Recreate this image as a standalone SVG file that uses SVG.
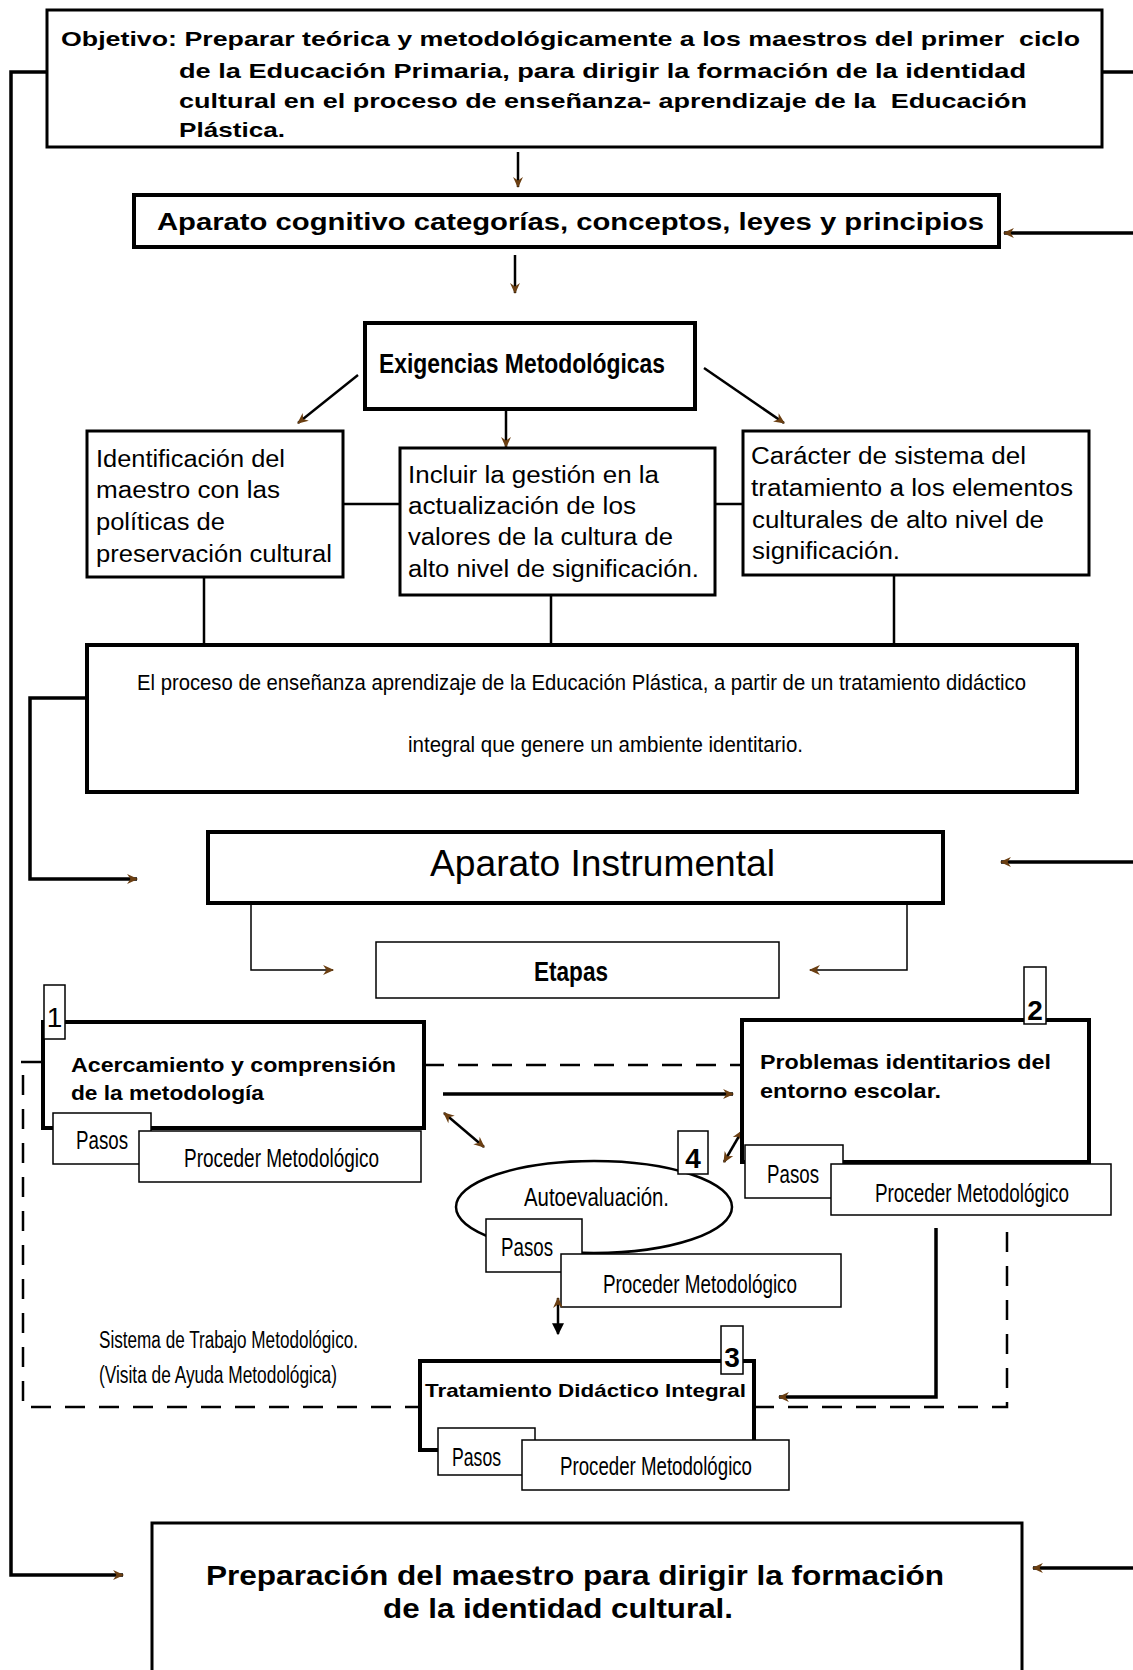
<svg xmlns="http://www.w3.org/2000/svg" width="1133" height="1670" viewBox="0 0 1133 1670">
<style>
.box{fill:#fff;stroke:#000;stroke-width:3}
.thk{stroke-width:4}
.thn{stroke-width:1.5}
.ln{fill:none;stroke:#000;stroke-width:2.5}
.ln3{fill:none;stroke:#000;stroke-width:3.5}
.tl{fill:none;stroke:#000;stroke-width:1.5}
.dash{fill:none;stroke:#000;stroke-width:2.5;stroke-dasharray:20 14}
.b{font-family:"Liberation Sans",Arial,sans-serif;font-weight:bold;fill:#000}
.r{font-family:"Liberation Sans",Arial,sans-serif;fill:#000}
.n{font-family:"Liberation Sans Narrow","Liberation Sans",Arial,sans-serif;fill:#000}
</style>
<defs>
<marker id="a" viewBox="0 0 10 10" refX="9" refY="5" markerWidth="14" markerHeight="11" markerUnits="userSpaceOnUse" orient="auto-start-reverse"><path d="M0,0.5 L10,5 L0,9.5 L3,5 z" fill="#6b3f12"/></marker>
<marker id="k" viewBox="0 0 10 10" refX="9" refY="5" markerWidth="12" markerHeight="12" markerUnits="userSpaceOnUse" orient="auto"><path d="M0,0 L10,5 L0,10 z" fill="#000"/></marker>
</defs>

<g id="connectors">
<path class="ln3" d="M47,72 H11 V1575 H123" marker-end="url(#a)"/>
<path class="ln3" d="M1102,72 H1133"/>
<path class="ln3" d="M1133,233 H1004" marker-end="url(#a)"/>
<path class="ln3" d="M1133,862 H1001" marker-end="url(#a)"/>
<path class="ln3" d="M1133,1568 H1033" marker-end="url(#a)"/>
<path class="ln" d="M518,152 V187" marker-end="url(#a)"/>
<path class="ln" d="M515,255 V293" marker-end="url(#a)"/>
<path class="ln" d="M358,375 L298,423" marker-end="url(#a)"/>
<path class="ln" d="M506,409 V447" marker-end="url(#a)"/>
<path class="ln" d="M704,368 L784,423" marker-end="url(#a)"/>
<path class="ln" d="M343,504 H400 M715,504 H743"/>
<path class="ln" d="M204,577 V645 M551,595 V645 M894,575 V645"/>
<path class="ln3" d="M87,698 H30 V879 H137" marker-end="url(#a)"/>
<path class="tl" d="M251,903 V970 H333" marker-end="url(#a)"/>
<path class="tl" d="M907,903 V970 H810" marker-end="url(#a)"/>
<path class="dash" d="M424,1065 H742"/>
<path class="ln" d="M21,1062 H43"/>
<path class="dash" d="M23,1075 V1407 H419"/>
<path class="dash" d="M754,1407 H1007 V1218"/>
<path class="ln3" d="M443,1094 H733" marker-end="url(#a)"/>
<path class="ln" d="M444,1113 L484,1147" marker-start="url(#a)" marker-end="url(#a)"/>
<path class="ln" d="M742,1131 L724,1162" marker-start="url(#a)" marker-end="url(#a)"/>
<path class="ln3" d="M936,1228 V1397 H779" marker-end="url(#a)"/>
</g>

<g id="objetivo">
<rect class="box" x="47" y="10" width="1055" height="137"/>
<text class="b" font-size="21" xml:space="preserve"><tspan x="61" y="46" textLength="1019" lengthAdjust="spacingAndGlyphs">Objetivo: Preparar teórica y metodológicamente a los maestros del primer  ciclo</tspan></text>
<text class="b" font-size="21"><tspan x="179" y="78" textLength="847" lengthAdjust="spacingAndGlyphs">de la Educación Primaria, para dirigir la formación de la identidad</tspan></text>
<text class="b" font-size="21" xml:space="preserve"><tspan x="179" y="108" textLength="848" lengthAdjust="spacingAndGlyphs">cultural en el proceso de enseñanza- aprendizaje de la  Educación</tspan></text>
<text class="b" font-size="21" x="179" y="137" textLength="106" lengthAdjust="spacingAndGlyphs">Plástica.</text>
</g>

<g id="aparato-cognitivo">
<rect class="box thk" x="134" y="195" width="865" height="52"/>
<text class="b" font-size="23" x="157" y="230" textLength="827" lengthAdjust="spacingAndGlyphs">Aparato cognitivo categorías, conceptos, leyes y principios</text>
</g>

<g id="exigencias">
<rect class="box thk" x="365" y="323" width="330" height="86"/>
<text class="n" font-weight="bold" font-size="28" x="379" y="373" textLength="286" lengthAdjust="spacingAndGlyphs">Exigencias Metodológicas</text>
</g>

<g id="identificacion">
<rect class="box" x="87" y="431" width="256" height="146"/>
<text class="r" font-size="23"><tspan x="96" y="467" textLength="189" lengthAdjust="spacingAndGlyphs">Identificación del</tspan><tspan x="96" y="498" textLength="184" lengthAdjust="spacingAndGlyphs">maestro con las</tspan><tspan x="96" y="530" textLength="129" lengthAdjust="spacingAndGlyphs">políticas de</tspan><tspan x="96" y="562" textLength="236" lengthAdjust="spacingAndGlyphs">preservación cultural</tspan></text>
</g>

<g id="incluir">
<rect class="box" x="400" y="448" width="315" height="147"/>
<text class="r" font-size="23"><tspan x="408" y="483" textLength="251" lengthAdjust="spacingAndGlyphs">Incluir la gestión en la</tspan><tspan x="408" y="514" textLength="228" lengthAdjust="spacingAndGlyphs">actualización de los</tspan><tspan x="408" y="545" textLength="265" lengthAdjust="spacingAndGlyphs">valores de la cultura de</tspan><tspan x="408" y="577" textLength="291" lengthAdjust="spacingAndGlyphs">alto nivel de significación.</tspan></text>
</g>

<g id="caracter">
<rect class="box" x="743" y="431" width="346" height="144"/>
<text class="r" font-size="23"><tspan x="751" y="464" textLength="275" lengthAdjust="spacingAndGlyphs">Carácter de sistema del</tspan><tspan x="751" y="496" textLength="322" lengthAdjust="spacingAndGlyphs">tratamiento a los elementos</tspan><tspan x="752" y="528" textLength="292" lengthAdjust="spacingAndGlyphs">culturales de alto nivel de</tspan><tspan x="752" y="559" textLength="148" lengthAdjust="spacingAndGlyphs">significación.</tspan></text>
</g>

<g id="proceso">
<rect class="box thk" x="87" y="645" width="990" height="147"/>
<text class="n" font-size="22" x="137" y="690" textLength="889" lengthAdjust="spacingAndGlyphs">El proceso de enseñanza aprendizaje de la Educación Plástica, a partir de un tratamiento didáctico</text>
<text class="n" font-size="22" x="408" y="752" textLength="395" lengthAdjust="spacingAndGlyphs">integral que genere un ambiente identitario.</text>
</g>

<g id="aparato-instrumental">
<rect class="box thk" x="208" y="832" width="735" height="71"/>
<text class="r" font-size="36" x="430" y="876" textLength="345" lengthAdjust="spacingAndGlyphs">Aparato Instrumental</text>
</g>

<g id="etapas">
<rect class="box thn" x="376" y="942" width="403" height="56"/>
<text class="n" font-weight="bold" font-size="28" x="534" y="981" textLength="74" lengthAdjust="spacingAndGlyphs">Etapas</text>
</g>

<g id="etapa1">
<rect class="box thk" x="43" y="1022" width="381" height="106"/>
<text class="b" font-size="20"><tspan x="71" y="1072" textLength="325" lengthAdjust="spacingAndGlyphs">Acercamiento y comprensión</tspan><tspan x="71" y="1100" textLength="193" lengthAdjust="spacingAndGlyphs">de la metodología</tspan></text>
<rect class="box thn" x="44" y="985" width="21" height="54"/>
<text class="n" font-size="28" x="54.5" y="1027" text-anchor="middle">1</text>
<rect class="box thn" x="53" y="1113" width="98" height="51"/>
<text class="n" font-size="26" x="76" y="1149" textLength="52" lengthAdjust="spacingAndGlyphs">Pasos</text>
<rect class="box thn" x="139" y="1131" width="282" height="51"/>
<text class="n" font-size="25" x="184" y="1167" textLength="195" lengthAdjust="spacingAndGlyphs">Proceder Metodológico</text>
</g>

<g id="etapa2">
<rect class="box thk" x="742" y="1020" width="347" height="142"/>
<rect class="box thn" x="1024" y="967" width="22" height="57"/>
<text class="n" font-weight="bold" font-size="28" x="1035" y="1020" text-anchor="middle">2</text>
<text class="b" font-size="20"><tspan x="760" y="1069" textLength="291" lengthAdjust="spacingAndGlyphs">Problemas identitarios del</tspan><tspan x="760" y="1098" textLength="181" lengthAdjust="spacingAndGlyphs">entorno escolar.</tspan></text>
<rect class="box thn" x="745" y="1145" width="98" height="53"/>
<text class="n" font-size="26" x="767" y="1183" textLength="52" lengthAdjust="spacingAndGlyphs">Pasos</text>
<rect class="box thn" x="831" y="1164" width="280" height="51"/>
<text class="n" font-size="25" x="875" y="1202" textLength="194" lengthAdjust="spacingAndGlyphs">Proceder Metodológico</text>
</g>

<g id="autoevaluacion">
<ellipse cx="594" cy="1207" rx="138" ry="46" fill="#fff" stroke="#000" stroke-width="2.5"/>
<text class="n" font-size="25" x="524" y="1206" textLength="145" lengthAdjust="spacingAndGlyphs">Autoevaluación.</text>
<rect class="box thn" x="678" y="1131" width="30" height="43"/>
<text class="n" font-weight="bold" font-size="28" x="693" y="1168" text-anchor="middle">4</text>
<rect class="box thn" x="486" y="1219" width="96" height="53"/>
<text class="n" font-size="26" x="501" y="1256" textLength="52" lengthAdjust="spacingAndGlyphs">Pasos</text>
<rect class="box thn" x="561" y="1254" width="280" height="53"/>
<text class="n" font-size="25" x="603" y="1293" textLength="194" lengthAdjust="spacingAndGlyphs">Proceder Metodológico</text>
<path class="ln" d="M558,1298 V1334" marker-start="url(#a)" marker-end="url(#k)"/>
</g>

<g id="sistema">
<text class="n" font-size="23"><tspan x="99" y="1348" textLength="259" lengthAdjust="spacingAndGlyphs">Sistema de Trabajo Metodológico.</tspan><tspan x="99" y="1383" textLength="238" lengthAdjust="spacingAndGlyphs">(Visita de Ayuda Metodológica)</tspan></text>
</g>

<g id="etapa3">
<rect class="box thk" x="420" y="1361" width="334" height="89"/>
<rect class="box thn" x="721" y="1326" width="22" height="48"/>
<text class="n" font-weight="bold" font-size="28" x="732" y="1367" text-anchor="middle">3</text>
<text class="b" font-size="19" x="425" y="1397" textLength="321" lengthAdjust="spacingAndGlyphs">Tratamiento Didáctico Integral</text>
<rect class="box thn" x="438" y="1428" width="97" height="47"/>
<text class="n" font-size="26" x="452" y="1466" textLength="49" lengthAdjust="spacingAndGlyphs">Pasos</text>
<rect class="box thn" x="522" y="1440" width="267" height="50"/>
<text class="n" font-size="25" x="560" y="1475" textLength="192" lengthAdjust="spacingAndGlyphs">Proceder Metodológico</text>
</g>

<g id="preparacion">
<rect class="box" x="152" y="1523" width="870" height="160"/>
<text class="b" font-size="28"><tspan x="206" y="1585" textLength="738" lengthAdjust="spacingAndGlyphs">Preparación del maestro para dirigir la formación</tspan><tspan x="383" y="1618" textLength="350" lengthAdjust="spacingAndGlyphs">de la identidad cultural.</tspan></text>
</g>
</svg>
